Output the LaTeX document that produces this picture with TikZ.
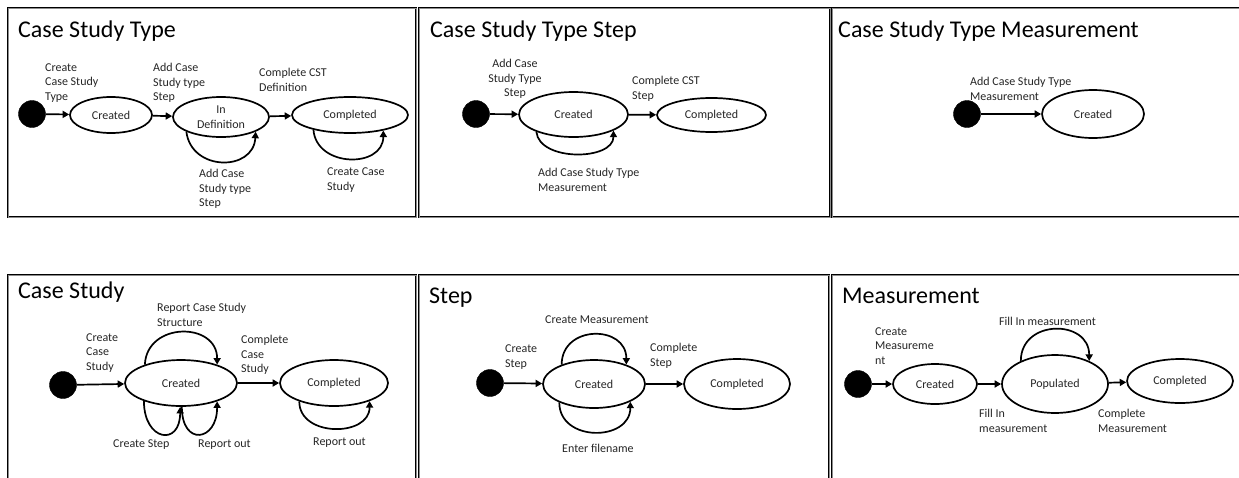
\documentclass[tikz,border=0pt]{standalone}
\usepackage{fontspec}
\setmainfont{Carlito}
\usetikzlibrary{shapes.geometric,arrows.meta}

\begin{document}
\begin{tikzpicture}[x=1pt,y=-1pt,
  panel/.style={draw=black, line width=0.9pt, double=black!45, double distance=0.7pt},
  title/.style={anchor=base west, inner sep=0pt, font=\fontsize{24}{28}\selectfont},
  state/.style={ellipse, draw, line width=1.7pt, inner sep=0pt, align=center,
                font=\fontsize{12}{14.5}\selectfont, text=black!85},
  init/.style={circle, fill=black, draw=black, minimum size=27pt, inner sep=0pt},
  lbl/.style={anchor=west, inner sep=0pt, align=left,
              font=\fontsize{12}{14.5}\selectfont, text=black!85},
  clbl/.style={lbl, anchor=center, align=center},
  tr/.style={line width=1.7pt, -{Triangle[length=6.5pt,width=7pt]}},
]
\useasboundingbox (0,0) rectangle (1239,477);
\fill[white] (0,0) rectangle (1239,477);

% ---------- frames ----------
\draw[panel] (8,8) rectangle (416,217);
\draw[panel] (419,8) rectangle (830,217);
\draw[panel] (832,8) rectangle (1250,217);
\draw[panel] (8,275) rectangle (416,490);
\draw[panel] (419,275) rectangle (829,490);
\draw[panel] (832,275) rectangle (1250,490);

% ---------- Case Study Type ----------
\node[title] (t1) at (18,37) {Case Study Type};
\node[init] (i1) at (32,114) {};
\node[state, minimum width=82pt, minimum height=36pt] (c1) at (111,115) {Created};
\node[state, minimum width=96pt, minimum height=40pt] (d1) at (221,117) {In\\Definition};
\node[state, minimum width=116pt, minimum height=36pt] (e1) at (350,115) {Completed};
\draw[tr] (i1) -- (c1);
\draw[tr] (c1) -- (d1);
\draw[tr] (d1) -- (e1);
\draw[tr] (d1.203) .. controls +(5,40) and +(-2,40) .. (d1.337);
\draw[tr] (e1.202) .. controls +(3,38) and +(0,38) .. (e1.335);
\node[lbl] (l1a) at (45,83) {Create\\Case Study\\Type};
\node[lbl] (l1b) at (153,83) {Add Case\\Study type\\Step};
\node[lbl] (l1c) at (259,80) {Complete CST\\Definition};
\node[lbl] (l1d) at (199,189) {Add Case\\Study type\\Step};
\node[lbl] (l1e) at (327,180) {Create Case\\Study};

% ---------- Case Study Type Step ----------
\node[title] (t2) at (430,37) {Case Study Type Step};
\node[init] (i2) at (476,114) {};
\node[state, minimum width=109pt, minimum height=45pt] (c2) at (573.5,114.5) {Created};
\node[state, minimum width=109pt, minimum height=34pt] (e2) at (711.5,115) {Completed};
\draw[tr] (i2) -- (c2);
\draw[tr] (c2) -- (e2);
\draw[tr] (c2.205) .. controls +(3,30) and +(0,30) .. (c2.338);
\node[clbl] (l2a) at (515,79) {Add Case\\Study Type\\Step};
\node[lbl] (l2b) at (632,89) {Complete CST\\Step};
\node[lbl] (l2c) at (538,180) {Add Case Study Type\\Measurement};

% ---------- Case Study Type Measurement ----------
\node[title] (t3) at (838,37) {Case Study Type Measurement};
\node[init] (i3) at (967,114) {};
\node[state, minimum width=102pt, minimum height=48pt] (c3) at (1093,114) {Created};
\draw[tr] (i3) -- (c3);
\node[lbl] (l3a) at (970,89) {Add Case Study Type\\Measurement};

% ---------- Case Study ----------
\node[title] (t4) at (18,298) {Case Study};
\node[init] (i4) at (63,385) {};
\node[state, minimum width=112pt, minimum height=46pt] (c4) at (181,383) {Created};
\node[state, minimum width=108pt, minimum height=46pt] (e4) at (334,383) {Completed};
\draw[tr] (i4) -- (c4);
\draw[tr] (c4) -- (e4);
\draw[tr] (c4.153) .. controls +(2,-43) and +(0,-43) .. (c4.27);
\draw[tr] (c4.206) .. controls +(0,40) and +(0,40) .. (c4.268);
\draw[tr] (c4.272) .. controls +(0,40) and +(0,40) .. (c4.333);
\draw[tr] (e4.208) .. controls +(0,36) and +(0,36) .. (e4.333);
\node[lbl] (l4a) at (157,315) {Report Case Study\\Structure};
\node[lbl] (l4b) at (86,353) {Create\\Case\\Study};
\node[lbl] (l4c) at (241,355) {Complete\\Case\\Study};
\node[lbl] (l4d) at (113,445) {Create Step};
\node[lbl] (l4e) at (198,445) {Report out};
\node[lbl] (l4f) at (313,443) {Report out};

% ---------- Step ----------
\node[title] (t5) at (429,303) {Step};
\node[init] (i5) at (490,383) {};
\node[state, minimum width=102pt, minimum height=48pt] (c5) at (594,384) {Created};
\node[state, minimum width=106pt, minimum height=50pt] (e5) at (737,384) {Completed};
\draw[tr] (i5) -- (c5);
\draw[tr] (c5) -- (e5);
\draw[tr] (c5.149) .. controls +(0,-40) and +(0,-40) .. (c5.31);
\draw[tr] (c5.208) .. controls +(0,40) and +(0,40) .. (c5.334);
\node[lbl] (l5a) at (545,320) {Create Measurement};
\node[lbl] (l5b) at (505,357) {Create\\Step};
\node[lbl] (l5c) at (650,356) {Complete\\Step};
\node[lbl] (l5d) at (562,448) {Enter filename};

% ---------- Measurement ----------
\node[title] (t6) at (842,303) {Measurement};
\node[init] (i6) at (858,384) {};
\node[state, minimum width=84pt, minimum height=40pt] (c6) at (935,384) {Created};
\node[state, minimum width=106pt, minimum height=58pt] (p6) at (1055,384) {Populated};
\node[state, minimum width=106pt, minimum height=44pt] (e6) at (1180,381) {Completed};
\draw[tr] (i6) -- (c6);
\draw[tr] (c6) -- (p6);
\draw[tr] (p6) -- (e6);
\draw[tr] (p6.146) .. controls +(0,-42) and +(0,-42) .. (p6.34);
\node[lbl] (l6a) at (999,321) {Fill In measurement};
\node[lbl] (l6b) at (875,346) {Create\\Measureme\\nt};
\node[lbl] (l6c) at (979,421) {Fill In\\measurement};
\node[lbl] (l6d) at (1098,421) {Complete\\Measurement};
\end{tikzpicture}
\end{document}
